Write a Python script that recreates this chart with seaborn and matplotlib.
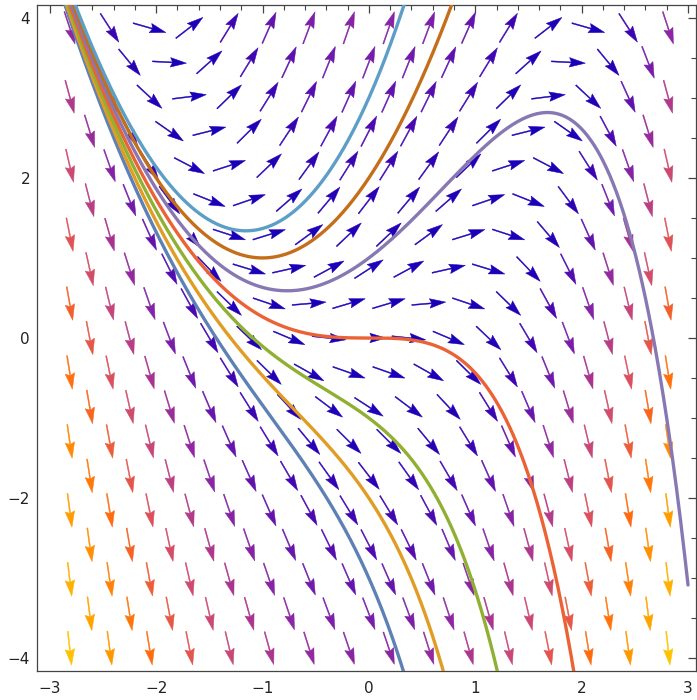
import numpy as np
import pandas as pd
import matplotlib
matplotlib.use("Agg")
import matplotlib.pyplot as plt
from matplotlib.colors import LinearSegmentedColormap
from matplotlib.ticker import MultipleLocator
import seaborn as sns

# slope field y' = y - x^2, solutions through y(0) = y0
initial_values = [-3, -2, -1, 0, 1, 2, 3]
curve_colors = ['#5E81B5', '#E19C24', '#8FB032', '#EB6235', '#8778B3', '#C56E1A', '#5D9EC7']
x_range = (-3, 3)
y_range = (-4, 4)
x_ticks = [-3, -2, -1, 0, 1, 2, 3]
y_ticks = [-4, -2, 0, 2, 4]

# arrow colours by relative magnitude
field_stops = [0.0, 0.08, 0.15, 0.25, 0.30, 0.35, 0.43, 0.53, 0.66, 0.82, 1.0]
field_colors = ['#1800B8', '#2600B4', '#4A08B0', '#7C20A8', '#9028A0', '#A83490',
                '#C84878', '#E05454', '#FF6A10', '#FF9800', '#FFC200']


def slope(x, y):
    return y - x ** 2


def solution(x, y0):
    # closed form of y' = y - x^2 with y(0) = y0
    return x ** 2 + 2 * x + 2 + (y0 - 2) * np.exp(x)


sns.set_style("white")
plt.rcParams['font.family'] = ['DejaVu Sans']

fig = plt.figure(figsize=(6.97, 7.0), dpi=100)
ax = fig.add_axes([37 / 697, 29 / 700, 659 / 697, 666 / 700])

xpad = 0.02 * (x_range[1] - x_range[0])
ypad = 0.02 * (y_range[1] - y_range[0])
ax.set_xlim(x_range[0] - xpad, x_range[1] + 0.075)
ax.set_ylim(y_range[0] - ypad, y_range[1] + ypad)

# hexagonal sample grid for the vector field
nx = 16
ny = 19
cell = (x_range[1] - x_range[0]) / nx
row_y = np.linspace(-3.875, 3.875, ny)
pts_x, pts_y = [], []
for i, yy in enumerate(row_y):
    if i % 2 == 0:
        xs = x_range[0] + cell / 2 + cell * np.arange(nx)
    else:
        xs = x_range[0] + cell + cell * np.arange(nx - 1)
    pts_x.extend(xs)
    pts_y.extend([yy] * len(xs))
pts_x = np.array(pts_x)
pts_y = np.array(pts_y)
f = slope(pts_x, pts_y)
mag = np.sqrt(1 + f ** 2)
norm = (mag - mag.min()) / (mag.max() - mag.min())
cmap = LinearSegmentedColormap.from_list('field', list(zip(field_stops, field_colors)))
arrow_cols = cmap(norm)

# direction in screen space so every arrow gets the same drawn length
bbox = ax.get_window_extent()
xl, yl = ax.get_xlim(), ax.get_ylim()
px_x = bbox.width / (xl[1] - xl[0])
px_y = bbox.height / (yl[1] - yl[0])
du = px_x * np.ones_like(f)
dv = px_y * f
ln = np.hypot(du, dv)
ax.quiver(pts_x, pts_y, du / ln, dv / ln, color=arrow_cols, angles='uv', pivot='middle',
          scale_units='dots', scale=1 / 34.0, units='dots', width=1.0,
          headwidth=9.5, headlength=16, headaxislength=14,
          edgecolors=arrow_cols, linewidths=0.35, zorder=2)

# solution curves
xs = np.linspace(x_range[0], x_range[1], 600)
frames = []
for y0 in initial_values:
    frames.append(pd.DataFrame({'x': xs, 'y': solution(xs, y0), 'y0': y0}))
curves = pd.concat(frames, ignore_index=True)
sns.lineplot(data=curves, x='x', y='y', hue='y0',
             palette=dict(zip(initial_values, curve_colors)),
             estimator=None, sort=False, legend=False, lw=2.4, ax=ax, zorder=3)

ax.set_xlabel('')
ax.set_ylabel('')
ax.set_xticks(x_ticks)
ax.set_yticks(y_ticks)
ax.xaxis.set_minor_locator(MultipleLocator(0.2))
ax.yaxis.set_minor_locator(MultipleLocator(0.5))
ax.tick_params(which='both', direction='in', top=True, right=True, color='#444444',
               labelsize=11, labelcolor='#222222')
ax.tick_params(which='major', length=6, width=0.9)
ax.tick_params(which='minor', length=3.5, width=0.8)
ax.tick_params(axis='x', pad=7)
ax.tick_params(axis='y', pad=5)
for s in ax.spines.values():
    s.set_color('#444444')
    s.set_linewidth(0.9)

fig.savefig('out.png', dpi=100)
